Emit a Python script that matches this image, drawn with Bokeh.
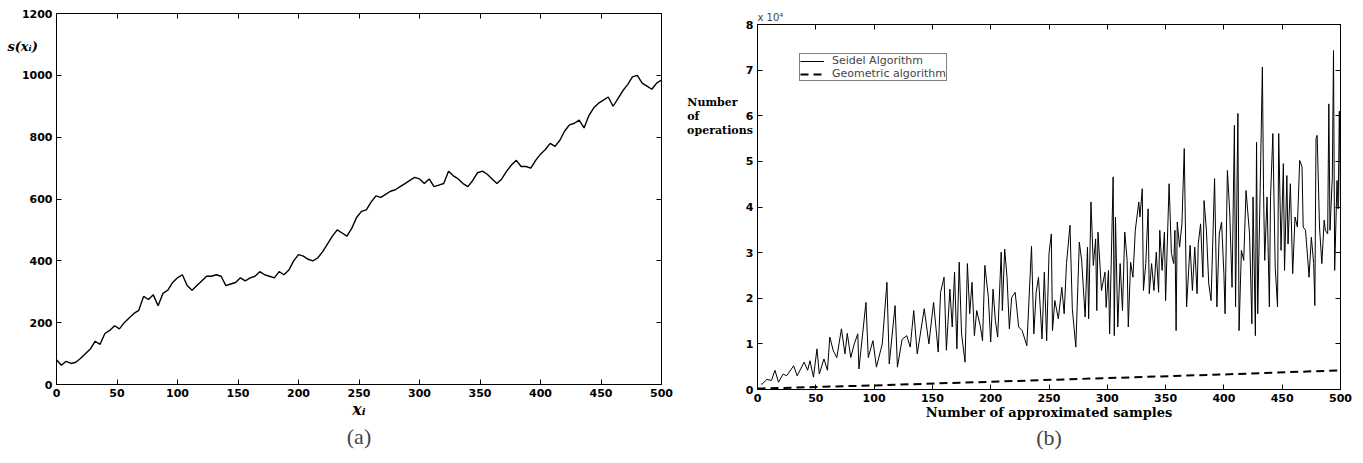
from bokeh.plotting import figure
from bokeh.layouts import row, column
from bokeh.models import Range1d, LinearAxis, Legend, LegendItem, FixedTicker, Title
from bokeh.embed import file_html
from bokeh.resources import INLINE

# ---------------- data: panel (a) ----------------
a_x = list(range(0, 501, 4))
a_y = [80, 62, 75, 68, 72, 85, 100, 115, 140, 130, 165, 175, 190, 180, 200, 215,
       230, 240, 285, 275, 290, 255, 295, 305, 330, 345, 355, 320, 305, 320, 335, 350,
       350, 355, 350, 320, 325, 330, 345, 335, 345, 350, 365, 355, 350, 345, 365, 355,
       370, 400, 420, 415, 405, 400, 410, 430, 455, 480, 500, 490, 480, 505, 540, 560,
       565, 590, 610, 605, 615, 625, 630, 640, 650, 660, 670, 665, 650, 665, 640, 645,
       650, 690, 675, 665, 650, 640, 660, 685, 690, 680, 665, 650, 665, 690, 710, 725,
       705, 705, 700, 725, 745, 760, 780, 770, 790, 820, 840, 845, 855, 830, 870, 895,
       910, 920, 930, 900, 925, 950, 970, 995, 1000, 975, 965, 955, 975, 985]
a_xticks = [0, 50, 100, 150, 200, 250, 300, 350, 400, 450, 500]
a_yticks = [0, 200, 400, 600, 800, 1000, 1200]

# ---------------- data: panel (b) (units of 1e4) ----------------
seidel_x = [3, 4, 8, 12, 15, 18, 22, 25, 31, 34, 40, 43, 45, 48, 51, 53, 57, 60, 62, 65,
            68, 72, 75, 77, 80, 83, 86, 87, 93, 95, 99, 102, 107, 111, 113, 118, 120, 124, 128, 131,
            134, 137, 143, 147, 151, 155, 157, 160, 162, 165, 167, 169, 171, 173, 175, 178, 180, 182, 184, 186,
            188, 191, 193, 195, 198, 200, 202, 204, 206, 209, 210, 212, 214, 216, 218, 221, 224, 227, 231, 235,
            237, 239, 241, 244, 246, 248, 250, 252, 253, 255, 258, 261, 263, 265, 268, 270, 273, 276, 278, 281,
            283, 284, 286, 288, 290, 291, 292, 295, 298, 299, 301, 302, 305, 306, 307, 309, 311, 313, 315, 317,
            318, 320, 322, 324, 327, 328, 330, 331, 333, 335, 336, 338, 340, 342, 344, 345, 347, 349, 350, 353,
            355, 357, 358, 359, 360, 362, 364, 366, 368, 371, 373, 375, 377, 378, 380, 382, 383, 385, 387, 389,
            391, 392, 394, 396, 398, 400, 401, 403, 405, 407, 409, 410, 412, 413, 415, 417, 419, 422, 424, 425,
            427, 428, 429, 431, 433, 434, 435, 437, 439, 440, 442, 444, 446, 447, 449, 451, 452, 454, 455, 457,
            459, 461, 463, 465, 467, 468, 470, 472, 473, 475, 477, 478, 479, 480, 482, 484, 486, 487, 489, 490,
            491, 493, 494, 495, 497, 498, 499, 500]
seidel_y = [0.12, 0.12, 0.22, 0.2, 0.42, 0.16, 0.34, 0.3, 0.52, 0.3, 0.6, 0.42, 0.63, 0.27, 0.89, 0.34, 0.67, 0.42, 1.15, 0.85,
            0.7, 1.33, 0.78, 1.23, 0.7, 1.0, 1.22, 0.45, 1.91, 0.7, 1.07, 0.49, 1.0, 2.35, 0.56, 1.84, 0.49, 1.1, 1.18, 0.93,
            1.73, 0.78, 1.77, 1.0, 1.91, 0.82, 2.13, 2.46, 0.86, 2.2, 1.37, 2.57, 0.89, 2.79, 1.22, 0.6, 2.76, 1.66, 2.35, 1.18,
            1.73, 1.4, 1.07, 2.72, 2.02, 1.04, 2.2, 1.51, 1.15, 3.01, 1.73, 3.08, 2.46, 1.33, 2.02, 2.13, 1.37, 1.29, 0.96, 3.14,
            1.22, 2.13, 2.46, 1.11, 2.57, 1.07, 2.98, 3.41, 1.29, 1.95, 1.55, 2.24, 1.66, 2.76, 3.6, 1.77, 0.93, 3.23, 2.83, 1.59,
            3.12, 1.55, 4.11, 2.72, 3.3, 1.73, 3.45, 2.17, 2.57, 1.8, 2.61, 1.22, 4.66, 1.18, 3.78, 1.37, 2.76, 1.73, 3.45, 2.83,
            1.37, 2.79, 2.46, 3.49, 4.11, 3.78, 4.4, 2.17, 2.76, 3.96, 2.1, 2.76, 2.17, 3.01, 2.13, 3.49, 2.61, 3.45, 1.95, 4.51,
            2.98, 2.76, 3.49, 1.29, 3.67, 3.12, 3.63, 5.28, 1.81, 3.16, 2.17, 3.12, 2.1, 3.19, 3.63, 2.46, 4.14, 3.49, 2.32, 1.95,
            3.71, 4.62, 1.81, 3.41, 3.67, 2.54, 1.66, 4.8, 3.89, 2.24, 5.79, 1.81, 6.05, 1.29, 3.05, 2.83, 4.36, 3.41, 1.44, 4.22,
            1.18, 5.42, 1.66, 4.22, 7.07, 4.36, 2.83, 4.22, 1.81, 4.22, 5.61, 2.68, 1.81, 5.61, 3.05, 4.95, 2.61, 4.69, 3.19, 4.51,
            2.54, 3.78, 3.56, 5.02, 4.88, 3.56, 3.49, 2.83, 2.46, 3.34, 2.76, 1.84, 5.5, 5.57, 3.56, 2.76, 3.71, 3.49, 3.41, 6.26,
            3.49, 4.66, 7.43, 2.61, 4.58, 3.96, 6.1, 4.0]
geo_x = [0, 100, 200, 300, 400, 500]
geo_y = [0.02, 0.09, 0.17, 0.25, 0.33, 0.42]
b_xticks = [0, 50, 100, 150, 200, 250, 300, 350, 400, 450, 500]
b_yticks = [0, 1, 2, 3, 4, 5, 6, 7, 8]

TICK_FONT = "DejaVu Sans"
SERIF = "DejaVu Serif"
AXIS_PROPS = LinearAxis.properties()
NBSP = "\u00a0"


def style(p, xt, yt):
    p.xgrid.visible = False
    p.ygrid.visible = False
    p.outline_line_color = "black"
    p.outline_line_width = 1
    p.below[0].ticker = FixedTicker(ticks=xt)
    p.left[0].ticker = FixedTicker(ticks=yt)
    for ax in (p.below[0], p.left[0]):
        ax.major_tick_in = 5
        ax.major_tick_out = 0
        ax.minor_tick_line_color = None
        ax.axis_line_color = "black"
        ax.major_tick_line_color = "black"
        ax.major_label_text_font = TICK_FONT
        ax.major_label_text_font_style = "bold"
        ax.major_label_text_font_size = "11px"
        ax.major_label_text_color = "black"
        ax.major_label_standoff = 4
        ax.axis_label_text_font = SERIF
        ax.axis_label_text_color = "black"
    for loc, tk in (("right", yt), ("above", xt)):
        ax = LinearAxis(ticker=FixedTicker(ticks=tk), major_tick_in=5, major_tick_out=0,
                        minor_tick_line_color=None, major_label_text_font_size="1px",
                        major_label_text_color=None, major_label_standoff=0,
                        axis_line_color="black")
        p.add_layout(ax, loc)


def horizontal_ylabel(ax, text, size, fstyle, line_height, standoff):
    ax.axis_label = text
    ax.axis_label_text_font_size = size
    ax.axis_label_text_font_style = fstyle
    ax.axis_label_text_line_height = line_height
    ax.axis_label_text_align = "left"
    ax.axis_label_standoff = standoff
    if "axis_label_orientation" in AXIS_PROPS:
        ax.axis_label_orientation = "horizontal"
    if "axis_label_align" in AXIS_PROPS:
        ax.axis_label_align = "end"


# ---------------- panel (a) ----------------
p1 = figure(width=680, height=462, output_backend="svg", toolbar_location=None,
            x_range=Range1d(0, 500), y_range=Range1d(0, 1200),
            min_border_left=56, min_border_right=19, min_border_top=13, min_border_bottom=78)
style(p1, a_xticks, a_yticks)
p1.line(a_x, a_y, line_color="black", line_width=1.4)
xa = p1.below[0]
xa.axis_label = "xᵢ"
xa.axis_label_text_font_style = "bold italic"
xa.axis_label_text_font_size = "16px"
xa.axis_label_standoff = 0
# leading empty lines push the horizontal label down from the top of the axis
horizontal_ylabel(p1.left[0], "\n\n\n\ns(xᵢ)", "13px", "bold italic", 1.085, -19)
p1.add_layout(Title(text="(a)", align="center", text_font="Liberation Serif",
                    text_font_size="22px", text_font_style="normal", standoff=0), "below")

# ---------------- panel (b) ----------------
p2 = figure(width=682, height=462, output_backend="svg", toolbar_location=None,
            x_range=Range1d(0, 500), y_range=Range1d(0, 8),
            min_border_left=77, min_border_right=22, min_border_top=24, min_border_bottom=73)
style(p2, b_xticks, b_yticks)
r_s = p2.line(seidel_x, seidel_y, line_color="black", line_width=1)
r_g = p2.line(geo_x, geo_y, line_color="black", line_width=2, line_dash="8 5")
legend = Legend(items=[LegendItem(label="Seidel Algorithm", renderers=[r_s]),
                       LegendItem(label="Geometric algorithm", renderers=[r_g])],
                location=(42, 308), border_line_color="black", border_line_width=1,
                label_text_font=TICK_FONT, label_text_font_size="11px",
                label_text_line_height=1.0,
                glyph_width=24, glyph_height=10, label_height=10, spacing=0,
                padding=0, margin=0, label_standoff=8, background_fill_alpha=1)
p2.add_layout(legend)
xb = p2.below[0]
xb.axis_label = "Number of approximated samples"
xb.axis_label_text_font_style = "bold"
xb.axis_label_text_font_size = "13px"
xb.axis_label_standoff = 0
ops_text = "\n" * 13 + "Number" + NBSP * 4 + "\nof" + NBSP * 14 + "\noperations"
horizontal_ylabel(p2.left[0], ops_text, "11px", "bold", 1.085, -10)
p2.add_layout(Title(text="x 10⁴", align="left", text_font=TICK_FONT,
                    text_font_size="10px", text_font_style="normal", standoff=3), "above")
p2.add_layout(Title(text="(b)", align="center", text_font="Liberation Serif",
                    text_font_size="22px", text_font_style="normal", standoff=0), "below")

layout = row(column(p1), column(p2))
open("out.html", "w").write(file_html(layout, INLINE))
